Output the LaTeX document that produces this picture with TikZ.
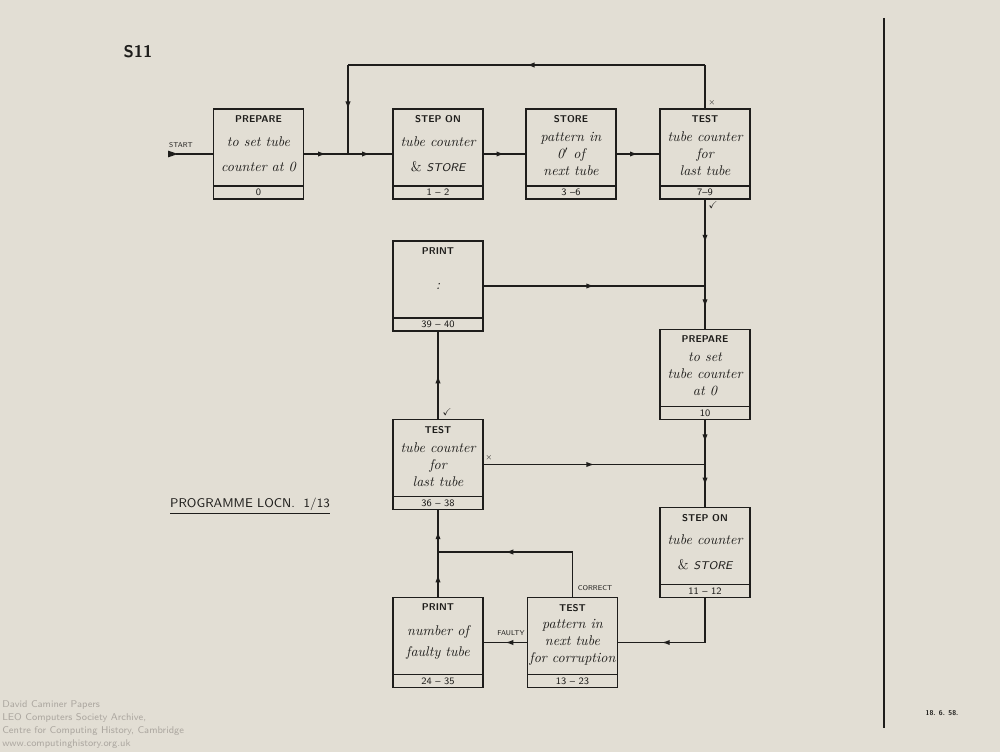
\documentclass[tikz,border=0pt]{standalone}
\usepackage{amssymb}
\usetikzlibrary{positioning,arrows.meta,decorations.markings}
\definecolor{paper}{RGB}{226,222,212}
\definecolor{ink}{RGB}{30,29,27}
\definecolor{wmgray}{RGB}{172,167,160}
\tikzset{
  block/.style={draw, line width=1.1pt, minimum width=22.5mm, minimum height=22.5mm, inner sep=1pt, align=center, font=\itshape},
  head/.style={anchor=north, yshift=-0.6mm, font=\sffamily\bfseries\scriptsize},
  num/.style={draw, line width=1.1pt, minimum width=22.5mm, minimum height=3.25mm, inner sep=0pt, font=\sffamily\scriptsize},
  wire/.style={line width=0.9pt},
  flow/.style={wire, postaction={decorate}, decoration={markings, mark=at position 0.5 with {\arrow{Latex[length=2mm,width=1.3mm]}}}},
  note/.style={font=\sffamily\tiny, inner sep=1pt}
}
\begin{document}
\begin{tikzpicture}[x=0.25mm, y=-0.25mm, color=ink]
\fill[paper] (0,0) rectangle (1000,752);
\useasboundingbox (0,0) rectangle (1000,752);

% top row
\node[block, label={[head]north:PREPARE}] (prep1) at (258.5,154) {to set tube\\[2mm]counter at 0};
\node[num, above=0pt of prep1.south] (prep1n) {0};
\node[block, label={[head]north:STEP ON}] (step1) at (438,154) {tube counter\\[2mm]\textup{\&} \textsf{\footnotesize STORE}};
\node[num, above=0pt of step1.south] (step1n) {1 -- 2};
\node[block, label={[head]north:STORE}] (store) at (571,154) {pattern in\\0$'$ of\\next tube};
\node[num, above=0pt of store.south] (storen) {3 --6};
\node[block, label={[head]north:TEST}] (test1) at (705,154) {tube counter\\for\\last tube};
\node[num, above=0pt of test1.south] (test1n) {7--9};

% left column
\node[block, label={[head]north:PRINT}] (print1) at (438,286) {:};
\node[num, above=0pt of print1.south] (print1n) {39 -- 40};
\node[block, label={[head]north:TEST}] (test2) at (438,464.5) {tube counter\\for\\last tube};
\node[num, above=0pt of test2.south] (test2n) {36 -- 38};
\node[block, label={[head]north:PRINT}] (print2) at (438,642.5) {number of\\[1mm]faulty tube};
\node[num, above=0pt of print2.south] (print2n) {24 -- 35};

% right column
\node[block, label={[head]north:PREPARE}] (prep2) at (705,374.5) {to set\\tube counter\\at 0};
\node[num, above=0pt of prep2.south] (prep2n) {10};
\node[block, label={[head]north:STEP ON}] (step2) at (705,552.5) {tube counter\\[2mm]\textup{\&} \textsf{\footnotesize STORE}};
\node[num, above=0pt of step2.south] (step2n) {11 -- 12};
\node[block, label={[head]north:TEST}] (test3) at (572.5,642.5) {pattern in\\next tube\\for corruption};
\node[num, above=0pt of test3.south] (test3n) {13 -- 23};

% junctions and corners
\coordinate (start) at (168,154);
\coordinate (j1) at (348,154);
\coordinate (loop) at (348,65);
\coordinate (back) at (705,65);
\coordinate (j2) at (705,286);
\coordinate (j3) at (705,464.5);
\coordinate (c1) at (705,642.5);
\coordinate (j4) at (438,552);
\coordinate (c2) at (572.5,552);

% connectors
\draw[wire, {Triangle[reversed,length=2.5mm,width=1.6mm]}-] (start) -- (prep1.west);
\draw[flow] (prep1.east) -- (j1);
\draw[flow] (j1) -- (step1.west);
\draw[flow] (step1.east) -- (store.west);
\draw[flow] (store.east) -- (test1.west);
\draw[wire] (test1.north) -- (back);
\draw[flow] (back) -- (loop);
\draw[flow] (loop) -- (j1);
\draw[flow] (test1.south) -- (j2);
\draw[flow] (j2) -- (prep2.north);
\draw[flow] (print1.east) -- (j2);
\draw[flow] (prep2.south) -- (j3);
\draw[flow] (j3) -- (step2.north);
\draw[flow] (test2.east) -- (j3);
\draw[wire] (step2.south) -- (c1);
\draw[flow] (c1) -- (test3.east);
\draw[flow] (test3.west) -- (print2.east);
\draw[wire] (test3.north) -- (c2);
\draw[flow] (c2) -- (j4);
\draw[flow] (print2.north) -- (j4);
\draw[flow] (j4) -- (test2.south);
\draw[flow] (test2.north) -- (print1.south);

% connector labels
\node[note] (startl) at (181,145.5) {START};
\node[note] (no1) at (712,103) {$\times$};
\node[note, font=\scriptsize] (yes1) at (713,205) {$\checkmark$};
\node[note, font=\scriptsize] (yes2) at (447,412) {$\checkmark$};
\node[note] (no2) at (489,458) {$\times$};
\node[note] (okl) at (595,588) {CORRECT};
\node[note] (badl) at (511,633) {FAULTY};

% sheet marks
\node[font=\sffamily\bfseries\large] (sheet) at (138,52) {S11};
\node[font=\sffamily\small] (locn) at (250,506) {\underline{PROGRAMME LOCN.\ \ 1/13}};
\draw[line width=2pt] (884,18) -- (884,728);
\node[font=\sffamily\tiny\bfseries] (date) at (942,713) {18. 6. 58.};
\node[anchor=north west, align=left, text=wmgray, inner sep=0pt, font={\sffamily\fontsize{7}{9.2}\selectfont}] (wm) at (2,700) {David Caminer Papers\\LEO Computers Society Archive,\\Centre for Computing History, Cambridge\\www.computinghistory.org.uk};
\end{tikzpicture}
\end{document}
